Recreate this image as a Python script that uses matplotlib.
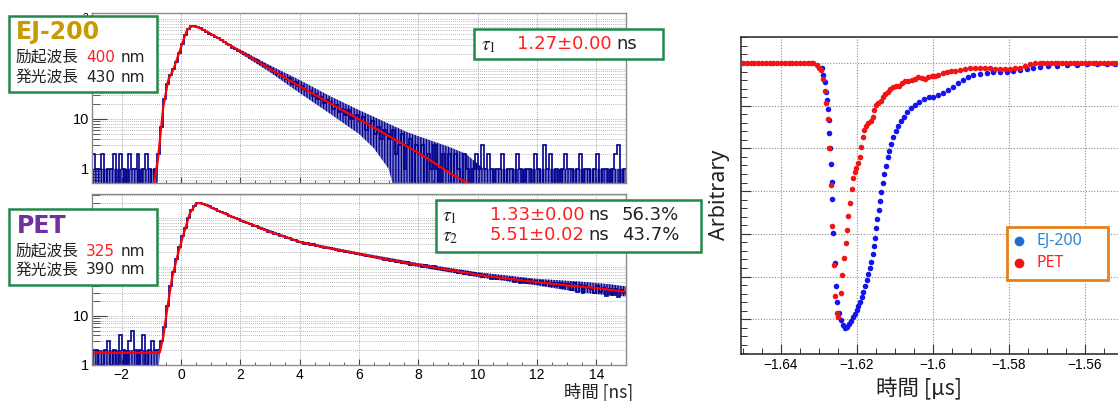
import numpy as np
import matplotlib
matplotlib.use('Agg')
import matplotlib.pyplot as plt
from matplotlib.patches import Rectangle
from matplotlib.lines import Line2D
from matplotlib.ticker import MultipleLocator, LogLocator, NullFormatter, FuncFormatter

plt.rcParams['font.family'] = ['Liberation Sans', 'DejaVu Sans']
plt.rcParams['mathtext.fontset'] = 'stix'
plt.rcParams['hatch.linewidth'] = 0.9

# ---------------- data ----------------
hist_start = -3.0
hist_width = 0.1

ej200_counts = [
    2, 1, 1, 2, 0, 1, 1, 2, 0, 2, 1, 0, 2, 1, 1, 2, 0, 1, 2, 1, 0, 1,
    2, 7, 25, 50, 75, 100, 140, 210, 320, 480, 640, 715, 710, 690,
    658, 604, 560, 512, 480, 436, 410, 372, 350, 316, 300, 268, 256, 230,
    218, 196, 186, 168, 156, 148, 132, 126, 112, 108,
    102, 88, 80, 79, 70, 62, 66, 50, 56, 46,
    46, 40, 36, 37, 29, 31, 25, 28, 21, 24,
    22, 16, 19, 14, 16, 12, 15, 10, 11, 12,
    9, 11, 6, 8, 9, 5, 7, 4, 6, 5,
    4, 6, 2, 3, 5, 1, 3, 4, 0, 3,
    2, 3, 0, 2, 1, 3, 1, 0, 2, 1,
    2, 0, 2, 1, 0, 2, 1, 0, 1, 2,
    1, 3, 1, 2, 1, 0, 1, 1, 2, 0,
    1, 1, 0, 2, 1, 0, 1, 1, 0, 2,
    1, 0, 3, 1, 2, 0, 1, 0, 1, 2,
    1, 1, 0, 1, 2, 0, 1, 1, 0, 1,
    2, 0, 1, 1, 0, 1, 2, 3, 0, 1,
]
# spread of the finely binned counts (lower / upper envelope)
ej200_env_x = [-3.0, -0.85, -0.75, 1.5, 2.0, 3.0, 4.0, 5.0, 6.0, 6.5, 7.0, 7.6, 8.0, 9.0, 9.6, 10.2, 15.0]
ej200_env_lo = [0.05, 0.05, 2, 340, 205, 86, 33, 13, 5, 2.6, 1.0, 0.05, 0.05, 0.05, 0.05, 0.05, 0.05]
ej200_env_hi = [1, 1, 2, 340, 245, 118, 60, 29, 15, 11, 8, 5.5, 4.5, 2.8, 2, 1, 1]
ej200_fit_x = [-0.92, -0.78, -0.6, -0.43, -0.25, -0.03, 0.2, 0.37, 0.55, 0.8, 1.08,
               2.0, 2.32, 4.0, 6.0, 8.0, 9.06, 9.7]
ej200_fit_y = [0.5, 1.5, 17, 60, 100, 240, 600, 720, 690, 590, 478,
               225, 174, 45, 9.8, 2.1, 0.83, 0.5]

pet_counts = [
    2, 2, 1, 1, 2, 3, 1, 2, 1, 4, 2, 1, 3, 5, 2, 1, 2, 4, 1, 2, 3, 2,
    2, 3, 6, 16, 40, 80, 145, 250, 420, 640, 1000, 1450, 1800, 2000,
    1985, 1945, 1810, 1735, 1605, 1530, 1410, 1345, 1240, 1185, 1090, 1065, 995, 955,
    872, 842, 780, 752, 698, 676, 622, 598, 560, 530,
    512, 472, 468, 430, 425, 392, 386, 355, 350, 322,
    330, 300, 302, 281, 288, 262, 268, 259, 244, 246,
    240, 228, 222, 216, 214, 200, 206, 192, 190, 184,
    184, 175, 169, 170, 158, 163, 150, 153, 140, 147,
    134, 140, 126, 131, 122, 118, 125, 110, 117, 108,
    112, 101, 108, 98, 96, 103, 90, 97, 86, 92,
    84, 88, 80, 76, 84, 71, 79, 70, 74, 67,
    72, 63, 70, 66, 58, 66, 57, 63, 56, 60,
    53, 60, 50, 57, 48, 56, 47, 53, 46, 51,
    44, 51, 42, 49, 41, 47, 40, 46, 38, 45,
    44, 34, 46, 31, 43, 30, 41, 38, 36, 29,
    40, 31, 38, 25, 35, 27, 36, 24, 34, 29,
]
pet_env_x = [-3.0, -0.78, -0.7, 1.0, 2.0, 4.0, 6.0, 8.0, 10.0, 12.0, 13.5, 14.5, 15.0]
pet_env_lo = [0.5, 0.5, 2.5, 1700, 885, 310, 172, 100, 62, 42, 30, 26, 25]
pet_env_hi = [2, 2, 2.5, 1700, 940, 342, 198, 120, 78, 57, 50, 44, 40]
pet_fit_x = [-2.9, -0.72, -0.6, -0.45, -0.3, -0.13, 0.03, 0.3, 0.5, 0.6, 0.8, 1.2, 1.75,
             2.0, 3.0, 4.0, 5.0, 6.0, 7.0, 8.0, 9.0, 10.0, 11.0, 12.0, 13.0, 14.0, 15.0]
pet_fit_y = [1.76, 1.76, 3.7, 16, 60, 160, 360, 1250, 1950, 2030, 1900, 1450, 1050,
             910, 520, 325, 240, 185, 140, 110, 88, 69, 58, 49, 42, 37, 31]

# waveform (right panel), time in us, amplitude in arbitrary units
ej_t = [-1.62929, -1.62887, -1.62842, -1.62816, -1.62789, -1.62771, -1.62745, -1.62729,
        -1.62711, -1.62692, -1.62666, -1.62650, -1.62624, -1.62579, -1.62553, -1.62518,
        -1.62474, -1.62429, -1.62376, -1.62324, -1.62271, -1.62218, -1.62166, -1.62113,
        -1.62061, -1.62008, -1.61966, -1.61921, -1.61876, -1.61834, -1.61789, -1.61745,
        -1.61703, -1.61658, -1.61624, -1.61587, -1.61553, -1.61526, -1.61500, -1.61466,
        -1.61429, -1.61395, -1.61368, -1.61324, -1.61282, -1.61237, -1.61192, -1.61150,
        -1.61097, -1.61045, -1.60982, -1.60913, -1.60842, -1.60763, -1.60676, -1.60579,
        -1.60474, -1.60361, -1.60237, -1.60113, -1.59992, -1.59861, -1.59729, -1.59597,
        -1.59466, -1.59334, -1.59203, -1.59071, -1.58939, -1.58763, -1.58587, -1.58413,
        -1.58237, -1.58061, -1.57887, -1.57711, -1.57534, -1.57361, -1.57184, -1.56966,
        -1.56745, -1.56482, -1.56218, -1.55955, -1.55692, -1.55429, -1.5520]
ej_v = [-0.124, -0.281, -0.438, -0.672, -0.867, -1.084, -1.335, -1.646,
        -1.998, -2.365, -2.780, -3.185, -3.988, -4.677, -5.215, -5.590,
        -5.862, -6.019, -6.136, -6.199, -6.176, -6.112, -6.035, -5.956,
        -5.878, -5.785, -5.691, -5.590, -5.473, -5.356, -5.222, -5.082,
        -4.941, -4.808, -4.653, -4.473, -4.286, -4.091, -3.871, -3.660,
        -3.443, -3.232, -3.014, -2.803, -2.600, -2.405, -2.208, -2.054,
        -1.897, -1.740, -1.600, -1.475, -1.365, -1.258, -1.155, -1.061,
        -0.984, -0.906, -0.843, -0.803, -0.789, -0.749, -0.696, -0.632,
        -0.555, -0.475, -0.398, -0.335, -0.288, -0.258, -0.234, -0.218,
        -0.211, -0.204, -0.187, -0.164, -0.133, -0.110, -0.094, -0.077,
        -0.063, -0.047, -0.040, -0.030, -0.030, -0.030, -0.030]

pet_t = [-1.650, -1.649, -1.648, -1.647, -1.646, -1.645, -1.644, -1.643, -1.642, -1.641,
         -1.640, -1.639, -1.638, -1.637, -1.636, -1.635, -1.634, -1.633, -1.632,
         -1.63150, -1.63061, -1.62992, -1.62955, -1.62903, -1.62850, -1.62808, -1.62763,
         -1.62729, -1.62692, -1.62650, -1.62613, -1.62571, -1.62534, -1.62500, -1.62429,
         -1.62387, -1.62342, -1.62297, -1.62263, -1.62229, -1.62192, -1.62139, -1.62097,
         -1.62061, -1.62018, -1.61974, -1.61929, -1.61887, -1.61850, -1.61808, -1.61763,
         -1.61703, -1.61639, -1.61587, -1.61545, -1.61500, -1.61439, -1.61376, -1.61324,
         -1.61263, -1.61192, -1.61132, -1.61061, -1.60982, -1.60895, -1.60824, -1.60737,
         -1.60650, -1.60561, -1.60474, -1.60387, -1.60297, -1.60211, -1.60124, -1.60034,
         -1.59947, -1.59861, -1.59745, -1.59639, -1.59534, -1.59421, -1.59289, -1.59158,
         -1.59026, -1.58895, -1.58763, -1.58632, -1.58500, -1.58368, -1.58237, -1.58105,
         -1.57974, -1.57842, -1.57711, -1.57579, -1.57447, -1.57316, -1.57184,
         -1.571, -1.570, -1.569, -1.568, -1.567, -1.566, -1.565, -1.564, -1.563, -1.562,
         -1.561, -1.560, -1.559, -1.558, -1.557, -1.556, -1.555, -1.554, -1.553, -1.552,
         -1.551]
pet_v = [0, 0, 0, 0, 0, 0, 0, 0, 0, 0,
         0, 0, 0, 0, 0, 0, 0, 0, 0,
         -0.008, -0.047, -0.110, -0.164, -0.382, -0.649, -0.944, -1.319,
         -1.998, -2.857, -3.810, -4.731, -5.450, -5.862, -5.956, -5.393,
         -4.972, -4.560, -4.223, -3.911, -3.583, -3.272, -2.958, -2.700,
         -2.546, -2.466, -2.349, -2.194, -1.960, -1.740, -1.569, -1.475,
         -1.412, -1.351, -1.258, -1.101, -0.984, -0.930, -0.890, -0.803,
         -0.726, -0.672, -0.616, -0.569, -0.539, -0.539, -0.475, -0.429,
         -0.415, -0.398, -0.382, -0.335, -0.358, -0.382, -0.335, -0.304,
         -0.304, -0.281, -0.241, -0.204, -0.187, -0.180, -0.164, -0.133,
         -0.124, -0.110, -0.110, -0.124, -0.124, -0.141, -0.141, -0.133,
         -0.133, -0.124, -0.110, -0.070, -0.023, -0.008, -0.008,
         0, 0, 0, 0, 0, 0, 0, 0, 0, 0,
         0, 0, 0, 0, 0, 0, 0, 0, 0, 0,
         0]

# ---------------- figure ----------------
W, H = 1118, 401
fig = plt.figure(figsize=(W / 100, H / 100), dpi=100)


def fx(px):
    return px / W


def fy(py):
    return 1 - py / H


def axes_px(x0, y0, x1, y1):
    return fig.add_axes([fx(x0), fy(y1), fx(x1) - fx(x0), fy(y0) - fy(y1)])


def make_logfmt(shown):
    def fmt(v, pos):
        e = int(round(np.log10(v)))
        if e not in shown:
            return ''
        if e == 0:
            return '1'
        if e == 1:
            return '10'
        return r'$\mathregular{10^{%d}}$' % e
    return fmt


BLUE_H = '#00008f'
GRID = '#a0a0a0'


def style_left(ax, ylim, xlabels, shown):
    ax.set_yscale('log')
    ax.set_xlim(-3, 15)
    ax.set_ylim(*ylim)
    ax.xaxis.set_major_locator(MultipleLocator(2))
    ax.xaxis.set_minor_locator(MultipleLocator(0.5))
    ax.yaxis.set_major_locator(LogLocator(base=10, numticks=12))
    ax.yaxis.set_minor_locator(LogLocator(base=10, subs=np.arange(2, 10), numticks=12))
    ax.yaxis.set_minor_formatter(NullFormatter())
    ax.yaxis.set_major_formatter(FuncFormatter(make_logfmt(shown)))
    ax.grid(True, which='major', axis='x', color=GRID, ls=(0, (1, 1.5)), lw=0.7)
    ax.grid(True, which='both', axis='y', color=GRID, ls=(0, (1, 1.5)), lw=0.6)
    ax.tick_params(which='both', direction='in', top=False, right=False, color='#444444')
    ax.tick_params(axis='y', which='major', length=11, width=0.8, pad=2, labelsize=10.5)
    ax.tick_params(axis='y', which='minor', length=5.5, width=0.6)
    ax.tick_params(axis='x', which='major', length=4.5, width=0.8, pad=2.5, labelsize=10)
    ax.tick_params(axis='x', which='minor', length=2.5, width=0.6)
    if not xlabels:
        ax.tick_params(axis='x', labelbottom=False)
    for sp in ax.spines.values():
        sp.set_color('#8a8a8a')
        sp.set_linewidth(1.0)
    ax.set_axisbelow(True)


def draw_hist(ax, counts, edges, env_x, env_lo, env_hi):
    ax.fill_between(env_x, env_lo, env_hi, facecolor=(0.0, 0.0, 0.56, 0.5),
                    edgecolor=BLUE_H, hatch='||||||', lw=0)
    c = np.array(counts, dtype=float)
    ax.stairs(np.where(c > 0, c, 0.05), edges, baseline=None, color=BLUE_H, lw=1.2)


edges_top = hist_start + hist_width * np.arange(len(ej200_counts) + 1)
edges_bot = hist_start + hist_width * np.arange(len(pet_counts) + 1)

ax1 = axes_px(92, 13, 626, 183)
draw_hist(ax1, ej200_counts, edges_top, ej200_env_x, ej200_env_lo, ej200_env_hi)
ax1.plot(ej200_fit_x, ej200_fit_y, color='#ff0000', lw=1.6)
style_left(ax1, (0.52, 1320), False, (0, 1, 3))

ax2 = axes_px(92, 194, 626, 365)
draw_hist(ax2, pet_counts, edges_bot, pet_env_x, pet_env_lo, pet_env_hi)
ax2.plot(pet_fit_x, pet_fit_y, color='#ff0000', lw=1.6)
style_left(ax2, (0.99, 3100), True, (0, 1))

# right panel
ax3 = axes_px(741, 37, 1120, 354)
ax3.plot(ej_t, ej_v, 'o', color='#1414f0', ms=4.0, mew=0, zorder=3)
ax3.plot(pet_t, pet_v, 'o', color='#f01414', ms=4.0, mew=0, zorder=4)
ax3.set_xlim(-1.6505, -1.5508)
ax3.set_ylim(-6.815, 0.609)
ax3.xaxis.set_major_locator(MultipleLocator(0.02))
ax3.xaxis.set_minor_locator(MultipleLocator(0.005))
ax3.yaxis.set_major_locator(MultipleLocator(1))
ax3.yaxis.set_minor_locator(MultipleLocator(0.2))
ax3.yaxis.set_major_formatter(NullFormatter())
ax3.xaxis.set_major_formatter(FuncFormatter(lambda v, p: ('%g' % round(v, 4)).replace('-', '\u2212')))
ax3.grid(True, which='major', color='#8c8c8c', ls=(0, (1, 1.5)), lw=0.8)
ax3.tick_params(which='both', direction='in', top=False, right=False, color='#333333')
ax3.tick_params(which='major', length=7, width=0.8, labelsize=9.8, pad=3)
ax3.tick_params(which='minor', length=4, width=0.7)
for sp in ax3.spines.values():
    sp.set_color('#333333')
    sp.set_linewidth(1.2)
ax3.set_axisbelow(True)

# ---------------- annotations ----------------
JP = ['Noto Sans CJK JP', 'DejaVu Sans']
DV = ['DejaVu Sans']
GREEN = '#23884a'


def box(x0, y0, x1, y1, color, lw=1.8):
    r = Rectangle((fx(x0), fy(y1)), fx(x1) - fx(x0), fy(y0) - fy(y1), transform=fig.transFigure,
                  facecolor='white', edgecolor=color, lw=lw, zorder=5)
    fig.add_artist(r)


def T(px, py, s, size, color='#222222', family=JP, weight='normal', ha='left', va='center', **kw):
    fig.text(fx(px), fy(py), s, fontsize=size, color=color, family=family, weight=weight,
             ha=ha, va=va, zorder=6, **kw)


# EJ-200 box
box(9, 16, 157, 92, GREEN)
T(16, 32, 'EJ-200', 17, color='#c89a00', family=DV, weight='bold')
T(16, 57, '励起波長', 11.3)
T(86, 57, '400', 11, color='#ff2020', family=DV)
T(121, 57, 'nm', 11, family=DV)
T(16, 77, '発光波長', 11.3)
T(86, 77, '430', 11, family=DV)
T(121, 77, 'nm', 11, family=DV)

# PET box
box(9, 209, 157, 285, GREEN)
T(17, 226, 'PET', 17, color='#7030a0', family=DV, weight='bold')
T(16, 251, '励起波長', 11.3)
T(86, 251, '325', 11, color='#ff2020', family=DV)
T(121, 251, 'nm', 11, family=DV)
T(16, 270, '発光波長', 11.3)
T(86, 270, '390', 11, family=DV)
T(121, 270, 'nm', 11, family=DV)

# tau boxes
box(474, 29, 663, 59, GREEN)
T(481, 45, r'$\tau_1$', 14, family=DV)
T(517, 44, '1.27±0.00', 13, color='#ff2020', family=DV)
T(616, 44, 'ns', 13, family=DV)

box(436, 200, 701, 252, GREEN)
T(442, 216, r'$\tau_1$', 14, family=DV)
T(490, 215, '1.33±0.00', 13, color='#ff2020', family=DV)
T(588, 215, 'ns', 13, family=DV)
T(622, 215, '56.3%', 13, family=DV)
T(442, 236, r'$\tau_2$', 14, family=DV)
T(490, 235, '5.51±0.02', 13, color='#ff2020', family=DV)
T(588, 235, 'ns', 13, family=DV)
T(622, 235, '43.7%', 13, family=DV)

# axis titles
T(599, 392, '時間 [ns]', 12.5, ha='center')
T(919, 388, '時間 [μs]', 15.5, ha='center')
T(720, 195, 'Arbitrary', 15.5, ha='center', family=['Noto Sans', 'DejaVu Sans'], rotation=90)

# legend of right panel
box(1007, 227, 1108, 280, '#e8801a', lw=2.0)
fig.add_artist(Line2D([fx(1019)], [fy(241)], marker='o', ms=7, color='#1f6fcf', mew=0,
                      transform=fig.transFigure, zorder=6))
fig.add_artist(Line2D([fx(1019)], [fy(263)], marker='o', ms=7, color='#f01414', mew=0,
                      transform=fig.transFigure, zorder=6))
T(1036, 241, 'EJ-200', 11.5, color='#2e86d4', family=['Noto Sans', 'DejaVu Sans'])
T(1036, 263, 'PET', 11.5, color='#ff2020', family=['Noto Sans', 'DejaVu Sans'])

fig.savefig('out.png', dpi=100)
